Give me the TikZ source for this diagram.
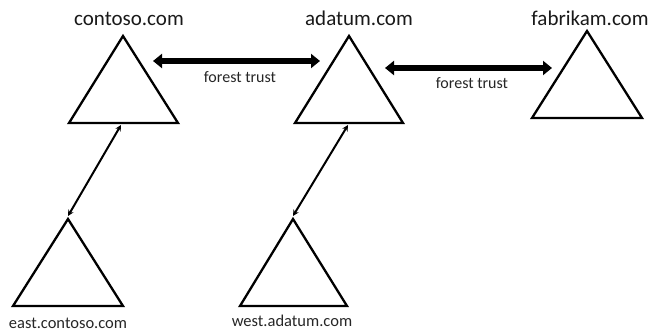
\documentclass[tikz,border=0pt]{standalone}
\usepackage{fontspec}
\setmainfont{Carlito}
\usetikzlibrary{arrows.meta}
\begin{document}
\begin{tikzpicture}[x=1pt,y=-1pt,
  tri/.style={line width=2.3pt,line join=miter},
  dom/.style={font=\fontsize{21}{24}\selectfont,anchor=base,inner sep=0pt,text=black!90},
  sub/.style={font=\fontsize{16.5}{19}\selectfont,anchor=base,inner sep=0pt,text=black!85},
  trustlbl/.style={font=\fontsize{16}{19}\selectfont,anchor=base,inner sep=0pt,text=black!85},
  trust/.style={line width=5.5pt,{Triangle[length=9pt,width=14pt]}-{Triangle[length=9pt,width=14pt]}},
  child/.style={line width=2pt,{Stealth[length=6pt,width=6pt]}-{Stealth[length=6pt,width=6pt]}}]
\useasboundingbox (0,0) rectangle (652,331);
% triangles
\draw[tri] (123,36) coordinate (cTop) -- (178,123) -- (69,123) -- cycle;
\draw[tri] (349,36) coordinate (aTop) -- (403,123) -- (295,123) -- cycle;
\draw[tri] (587,31) coordinate (fTop) -- (642,118) -- (532,118) -- cycle;
\draw[tri] (68,219) coordinate (eTop) -- (123,306) -- (13,306) -- cycle;
\draw[tri] (293,219) coordinate (wTop) -- (347,306) -- (240,306) -- cycle;
% labels
\node[dom] (lc) at (129,26) {contoso.com};
\node[dom] (la) at (359,26) {adatum.com};
\node[dom] (lf) at (590,26) {fabrikam.com};
\node[sub] (le) at (68,328) {east.contoso.com};
\node[sub] (lw) at (292,326) {west.adatum.com};
% trust arrows
\coordinate (t1a) at (153,61); \coordinate (t1b) at (320,61);
\coordinate (t2a) at (385,68); \coordinate (t2b) at (552,68);
\draw[trust] (t1a) -- (t1b);
\draw[trust] (t2a) -- (t2b);
\node[trustlbl] (ft1) at (240,83) {forest trust};
\node[trustlbl] (ft2) at (472,89) {forest trust};
% child links
\coordinate (cBase) at (121,125); \coordinate (eTip) at (68,216);
\coordinate (aBase) at (348,125); \coordinate (wTip) at (293,216);
\draw[child] (eTip) -- (cBase);
\draw[child] (wTip) -- (aBase);
\end{tikzpicture}
\end{document}
